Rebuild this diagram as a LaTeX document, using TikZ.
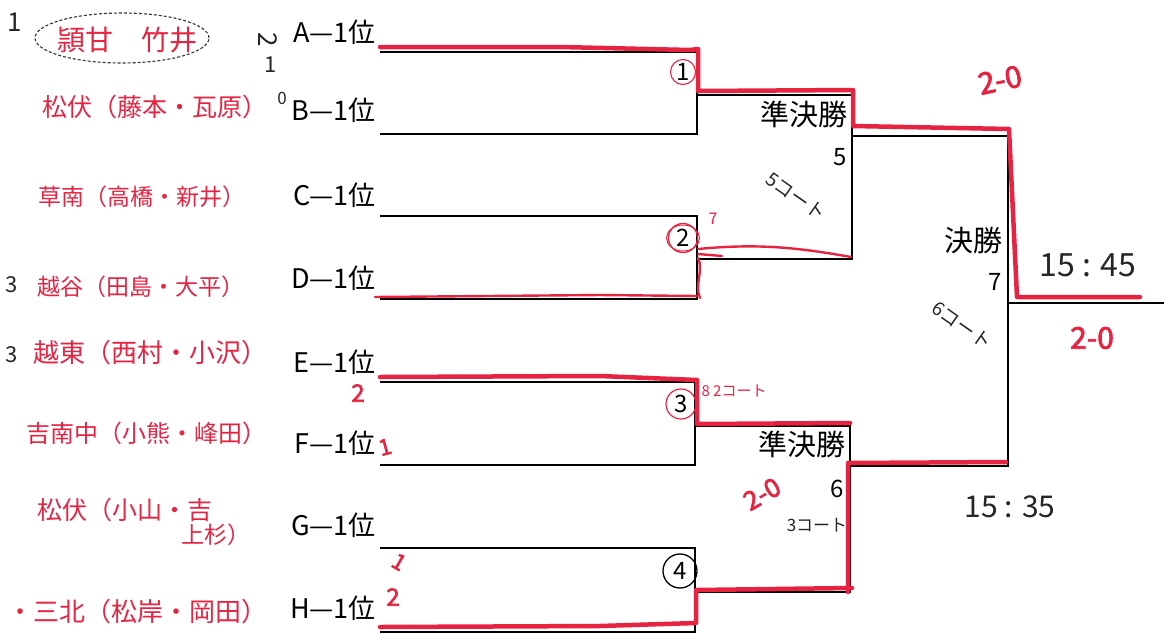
\documentclass[tikz,border=0pt]{standalone}
\usepackage{fontspec}
\setmainfont{Noto Sans CJK JP}
\newfontfamily\boldhw[FakeBold=2.5]{Noto Sans CJK JP}
\usetikzlibrary{shapes.geometric}
\definecolor{hred}{RGB}{230,36,66}
\begin{document}
\begin{tikzpicture}[x=1pt,y=-1pt,
  br/.style={line width=2.6pt},
  hl/.style={draw=hred,line width=4.5pt,line cap=round,line join=round},
  hlt/.style={draw=hred,line width=2.4pt,line cap=round,line join=round},
  lab/.style={anchor=base east,inner sep=0pt,font=\fontsize{27}{27}\selectfont},
  rnd/.style={anchor=east,inner sep=0pt,font=\fontsize{29}{29}\selectfont},
  num/.style={inner sep=0pt,font=\fontsize{24}{24}\selectfont},
  hw/.style={inner sep=0pt,text=hred},
  hwk/.style={inner sep=0pt,text=black!85},
  score/.style={inner sep=0pt,text=hred,font=\boldhw\fontsize{30}{30}\selectfont},
]
\fill[white] (0,0) rectangle (1164,641);
\useasboundingbox (0,0) rectangle (1164,641);

% bracket coordinates
\coordinate (aL) at (380,52);  \coordinate (aR) at (697,52);
\coordinate (bL) at (380,134); \coordinate (bR) at (697,134);
\coordinate (m1) at (697,95);  \coordinate (s5a) at (852,95);
\coordinate (cL) at (380,216); \coordinate (cR) at (697,216);
\coordinate (dL) at (380,299); \coordinate (dR) at (697,299);
\coordinate (m2) at (697,259); \coordinate (s5b) at (852,259);
\coordinate (s5o) at (852,136); \coordinate (f5) at (1008,136);
\coordinate (eL) at (380,382); \coordinate (eR) at (695,382);
\coordinate (fL) at (380,465); \coordinate (fR) at (695,465);
\coordinate (m3) at (695,426); \coordinate (s6a) at (850,426);
\coordinate (gL) at (380,548); \coordinate (gR) at (695,548);
\coordinate (hL) at (380,632); \coordinate (hR) at (695,632);
\coordinate (m4) at (695,592); \coordinate (s6b) at (850,592);
\coordinate (s6o) at (850,466); \coordinate (f6) at (1008,466);
\coordinate (fo) at (1008,303); \coordinate (fe) at (1164,303);

\draw[br] (aL) -- (aR) -- (bR) -- (bL);
\draw[br] (cL) -- (cR) -- (dR) -- (dL);
\draw[br] (eL) -- (eR) -- (fR) -- (fL);
\draw[br] (gL) -- (gR) -- (hR) -- (hL);
\draw[br] (m1) -- (s5a) -- (s5b) -- (m2);
\draw[br] (m3) -- (s6a) -- (s6b) -- (m4);
\draw[br] (s5o) -- (f5) -- (f6) -- (s6o);
\draw[br] (fo) -- (fe);

% red highlights
\draw[hl] (380,47) -- (560,47) -- (690,50) -- (698,49) -- (698,91) -- (853,90) -- (853,126) -- (1009,129) -- (1017,297) -- (1140,297);
\draw[hlt] (375,297) -- (600,295) -- (697,296);
\draw[hlt] (698,258) .. controls (704,270) and (694,285) .. (700,298);
\draw[hlt] (698,249) .. controls (760,243) and (800,248) .. (851,257);
\draw[hlt] (698,254) -- (722,256);
\draw[hl] (380,377) -- (600,376) -- (697,380) -- (697,424) -- (850,423);
\draw[hl] (380,627) -- (600,626) -- (696,623) -- (696,590) -- (852,588);
\draw[hl] (848,592) -- (848,463) -- (1006,462);

% labels
\node[lab] (A) at (376,42) {A—1位};
\node[lab] (B) at (376,120) {B—1位};
\node[lab] (C) at (376,205) {C—1位};
\node[lab] (D) at (376,288) {D—1位};
\node[lab] (E) at (376,372) {E—1位};
\node[lab] (F) at (376,453) {F—1位};
\node[lab] (G) at (376,535) {G—1位};
\node[lab] (H) at (376,618) {H—1位};

% round labels
\node[rnd] (sf1) at (848,114) {準決勝};
\node[num] (n5) at (840,157) {5};
\node[rnd] (sf2) at (846,444) {準決勝};
\node[num] (n6) at (837,489) {6};
\node[rnd] (fin) at (1003,240) {決勝};
\node[num] (n7) at (995,282) {7};

% circled match numbers
\node[num,circle,draw=hred,line width=1.1pt,minimum size=25pt] (c1) at (683,72) {1};
\node[num,circle,draw=hred,line width=1.3pt,minimum size=29pt] (c2) at (683,238) {2};
\draw[hred,line width=1pt] (c2.center) ellipse (16.5 and 13);
\node[num,circle,draw=hred,line width=1.2pt,minimum size=30pt] (c3) at (681,404) {3};
\node[num,circle,draw=black,line width=1.3pt,minimum size=34pt] (c4) at (680,571) {4};

% handwritten team names
\node[draw=black!80,densely dashed,line width=1.1pt,ellipse,minimum width=174pt,minimum height=50pt] (ov) at (122,38) {};
\node[hw,font=\fontsize{28}{28}\selectfont] (nA) at (127,40) {頴甘　竹井};
\node[hw,font=\fontsize{25}{25}\selectfont] (nB) at (155,107) {松伏（藤本・瓦原）};
\node[hw,font=\fontsize{23}{23}\selectfont] (nC) at (142,197) {草南（高橋・新井）};
\node[hw,font=\fontsize{23}{23}\selectfont] (nD) at (141,287) {越谷（田島・大平）};
\node[hw,font=\fontsize{26}{26}\selectfont] (nE) at (150,353) {越東（西村・小沢）};
\node[hw,font=\fontsize{24}{24}\selectfont] (nF) at (147,433) {吉南中（小熊・峰田）};
\node[hw,font=\fontsize{25}{25}\selectfont] (nG1) at (125,510) {松伏（小山・吉};
\node[hw,font=\fontsize{23}{23}\selectfont] (nG2) at (216,535) {上杉）};
\node[hw,font=\fontsize{26}{26}\selectfont] (nH) at (137,612) {・三北（松岸・岡田）};

% black handwritten marks
\node[hwk,font=\fontsize{26}{26}\selectfont] (k1) at (15,22) {1};
\node[hwk,font=\fontsize{22}{22}\selectfont] (k3a) at (12,285) {3};
\node[hwk,font=\fontsize{22}{22}\selectfont] (k3b) at (12,355) {3};
\node[hwk,rotate=-90,font=\fontsize{26}{26}\selectfont] (kA2) at (268,40) {2};
\node[hwk,font=\fontsize{22}{22}\selectfont] (kA1) at (271,65) {1};
\node[hwk,font=\fontsize{17}{17}\selectfont] (kB0) at (282,98) {0};
\node[hwk,rotate=-35,font=\fontsize{19}{19}\selectfont] (ct5) at (796,196) {5コート};
\node[hwk,rotate=-35,font=\fontsize{19}{19}\selectfont] (ct6) at (962,325) {6コート};
\node[hwk,font=\fontsize{17}{17}\selectfont] (ct3) at (817,525) {3コート};
\node[hwk,font=\fontsize{32}{32}\selectfont] (t1) at (1088,265) {15 : 45};
\node[hwk,font=\fontsize{30}{30}\selectfont] (t2) at (1010,507) {15 : 35};

% red handwritten marks
\node[hw,font=\fontsize{15}{15}\selectfont] (ct2) at (734,391) {8 2コート};
\node[hw,font=\fontsize{16}{16}\selectfont] (r7) at (713,219) {7};
\node[score,rotate=12] (s1) at (1000,80) {2-0};
\node[score] (s2) at (1092,338) {2-0};
\node[score,rotate=30,font=\boldhw\fontsize{26}{26}\selectfont] (s3) at (762,494) {2-0};
\node[score,font=\boldhw\fontsize{24}{24}\selectfont] (rE) at (358,393) {2};
\node[hw,rotate=15,font=\boldhw\fontsize{22}{22}\selectfont] (rF) at (385,447) {1};
\node[hw,rotate=-30,font=\boldhw\fontsize{22}{22}\selectfont] (rH1) at (399,562) {1};
\node[score,font=\boldhw\fontsize{24}{24}\selectfont] (rH2) at (393,597) {2};
\end{tikzpicture}
\end{document}
